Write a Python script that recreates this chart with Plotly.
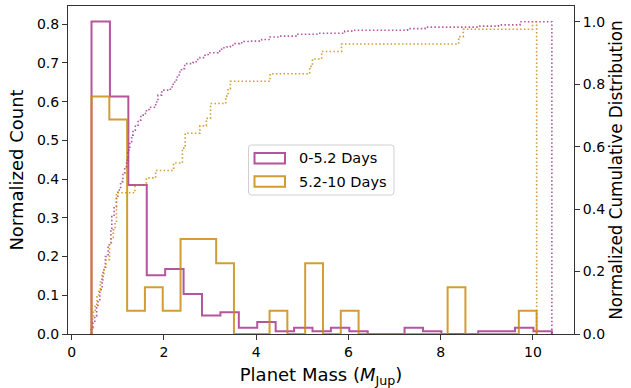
import numpy as np
import plotly.graph_objects as go

# ---------------- data ----------------
n_bins = 25
short_range = [0.43, 10.41]   # 0-5.2 Days sample, mass range of the histogram
long_range = [0.43, 10.08]    # 5.2-10 Days sample

short_density = [0.807, 0.613, 0.385, 0.152, 0.168, 0.103, 0.048, 0.056, 0.016, 0.031,
                 0.007, 0.016, 0.007, 0.016, 0.007, 0.0, 0.0, 0.016, 0.007, 0.0,
                 0.0, 0.007, 0.007, 0.016, 0.007]
long_density = [0.613, 0.554, 0.060, 0.121, 0.060, 0.245, 0.245, 0.183, 0.0, 0.0,
                0.060, 0.0, 0.183, 0.0, 0.060, 0.0, 0.0, 0.0, 0.0, 0.0,
                0.121, 0.0, 0.0, 0.0, 0.060]

short_cdf_mass = [0.43, 0.46, 0.50, 0.54, 0.57, 0.61, 0.66, 0.68, 0.73, 0.79,
                  0.85, 0.87, 0.92, 0.97, 1.00, 1.06, 1.11, 1.15, 1.19, 1.22,
                  1.26, 1.30, 1.33, 1.38, 1.44, 1.50, 1.55, 1.62, 1.69, 1.82,
                  1.87, 1.95, 2.00, 2.14, 2.20, 2.27, 2.33, 2.38, 2.45, 2.63,
                  2.70, 2.78, 2.89, 2.96, 3.17, 3.25, 3.36, 3.44, 3.54, 3.64,
                  3.73, 3.86, 4.12, 4.30, 4.51, 4.86, 5.34, 5.92, 6.07, 7.28,
                  7.66, 8.85, 9.25, 9.72]
short_cdf_value = [0.02, 0.035, 0.057, 0.084, 0.11, 0.142, 0.174, 0.206, 0.248, 0.286,
                   0.334, 0.376, 0.408, 0.435, 0.461, 0.488, 0.515, 0.536, 0.557, 0.589,
                   0.616, 0.637, 0.653, 0.669, 0.685, 0.701, 0.706, 0.719, 0.726, 0.743,
                   0.765, 0.775, 0.781, 0.791, 0.807, 0.823, 0.839, 0.850, 0.866, 0.869,
                   0.879, 0.885, 0.895, 0.901, 0.906, 0.917, 0.919, 0.925, 0.930, 0.933,
                   0.937, 0.938, 0.943, 0.951, 0.954, 0.960, 0.963, 0.970, 0.973, 0.978,
                   0.983, 0.986, 0.990, 1.0]

long_total = 42
long_cdf_mass = [0.43, 0.47, 0.51, 0.55, 0.59, 0.62, 0.66, 0.70, 0.74, 0.82,
                 0.86, 0.90, 0.94, 0.97, 1.37, 1.62, 1.82, 2.21, 2.40, 2.46,
                 2.78, 2.92, 3.01, 3.34, 3.39, 3.44, 4.30, 5.16, 5.22, 5.42,
                 5.85, 8.39, 8.49, 9.99]
long_cdf_count = [2, 3, 4, 5, 6, 7, 8, 9, 10, 12,
                  13, 14, 15, 19, 20, 21, 22, 23, 25, 27,
                  28, 29, 31, 32, 33, 34, 35, 36, 37, 38,
                  39, 40, 41, 42]

labels = ["0-5.2 Days", "5.2-10 Days"]
x_ticks = [0, 2, 4, 6, 8, 10]
y_ticks = [0.0, 0.1, 0.2, 0.3, 0.4, 0.5, 0.6, 0.7, 0.8]
y2_ticks = [0.0, 0.2, 0.4, 0.6, 0.8, 1.0]

# ---------------- style ----------------
MAG = "#a8378f"
GOLD = "#c98c10"
FONT = "DejaVu Sans"
AX = "#333333"


def step_outline(edges, heights):
    xs = [edges[0]] + list(edges[:-1]) + [edges[-1], edges[-1]]
    ys = [0.0] + list(heights) + [heights[-1], 0.0]
    return xs, ys


def cdf_outline(masses, values, end):
    xs = [masses[0]] + list(masses) + [end, end]
    ys = [0.0] + list(values) + [values[-1], 0.0]
    return xs, ys


short_edges = np.linspace(short_range[0], short_range[1], n_bins + 1)
long_edges = np.linspace(long_range[0], long_range[1], n_bins + 1)

fig = go.Figure()

for edges, dens, col in [(short_edges, short_density, MAG), (long_edges, long_density, GOLD)]:
    xs, ys = step_outline(edges, dens)
    fig.add_trace(go.Scatter(x=xs, y=ys, mode="lines", opacity=0.85,
                             line=dict(color=col, width=2, shape="hv"),
                             showlegend=False, hoverinfo="skip"))

long_cdf_value = [c / long_total for c in long_cdf_count]
for m, v, end, col in [(short_cdf_mass, short_cdf_value, short_range[1], MAG),
                       (long_cdf_mass, long_cdf_value, long_range[1], GOLD)]:
    xs, ys = cdf_outline(m, v, end)
    fig.add_trace(go.Scatter(x=xs, y=ys, mode="lines", yaxis="y2", opacity=0.85,
                             line=dict(color=col, width=1.6, shape="hv", dash="1.5px,2.3px"),
                             showlegend=False, hoverinfo="skip"))

# ---------------- layout ----------------
L, R, T, B = 68, 57, 6, 54
W, H = 631, 388
pw, ph = W - L - R, H - T - B


def px(x):
    return (x - L) / pw


def py(y):
    return (H - B - y) / ph


shapes = []
# legend frame with rounded corners
x0, x1, y0, y1, r = 248.5, 394.0, 145.0, 195.0, 3.0
rx, ry = r / pw, r / ph
path = (f"M {px(x0)+rx},{py(y0)} L {px(x1)-rx},{py(y0)} Q {px(x1)},{py(y0)} {px(x1)},{py(y0)-ry} "
        f"L {px(x1)},{py(y1)+ry} Q {px(x1)},{py(y1)} {px(x1)-rx},{py(y1)} "
        f"L {px(x0)+rx},{py(y1)} Q {px(x0)},{py(y1)} {px(x0)},{py(y1)+ry} "
        f"L {px(x0)},{py(y0)-ry} Q {px(x0)},{py(y0)} {px(x0)+rx},{py(y0)} Z")
shapes.append(dict(type="path", xref="paper", yref="paper", path=path,
                   fillcolor="rgba(255,255,255,0.8)", line=dict(color="#d0d0d0", width=1),
                   layer="above"))
annotations = []
for i, (lab, col) in enumerate(zip(labels, [MAG, GOLD])):
    ty = 158.3 + i * 23.2
    shapes.append(dict(type="rect", xref="paper", yref="paper",
                       x0=px(254.5), x1=px(285), y0=py(ty - 5.3), y1=py(ty + 5.3),
                       fillcolor="white", line=dict(color=col, width=2), opacity=0.85,
                       layer="above"))
    annotations.append(dict(x=px(297), y=py(ty), xref="paper", yref="paper",
                            text=lab, showarrow=False, xanchor="left", yanchor="middle",
                            font=dict(family=FONT, size=14.5, color="black")))

axis_common = dict(ticks="outside", ticklen=5, tickwidth=1, tickcolor=AX,
                   showline=True, linecolor=AX, linewidth=1, showgrid=False,
                   zeroline=False, automargin=False,
                   tickfont=dict(family=FONT, size=14, color="black"))

fig.update_layout(
    template="none",
    width=W, height=H,
    margin=dict(l=L, r=R, t=T, b=B, pad=0),
    paper_bgcolor="white", plot_bgcolor="white",
    font=dict(family=FONT, size=14, color="black"),
    showlegend=False,
    xaxis=dict(range=[-0.08, 10.89], tickvals=x_ticks, mirror=True,
               title=dict(text="Planet Mass (<i>M</i><sub>Jup</sub>)",
                          font=dict(family=FONT, size=18), standoff=9),
               **axis_common),
    yaxis=dict(range=[0, 0.847], tickvals=y_ticks, tickformat=".1f", mirror=True,
               title=dict(text="Normalized Count", font=dict(family=FONT, size=18), standoff=8),
               **axis_common),
    yaxis2=dict(range=[0, 1.0505], tickvals=y2_ticks, tickformat=".1f",
                overlaying="y", side="right",
                title=dict(text="Normalized Cumulative Distribution",
                           font=dict(family=FONT, size=16.8), standoff=6),
                **axis_common),
    shapes=shapes,
    annotations=annotations,
)

fig.write_html("out.html", config={"displayModeBar": False, "staticPlot": True},
               post_script="document.body.style.margin='0px';document.body.style.padding='0px';")
